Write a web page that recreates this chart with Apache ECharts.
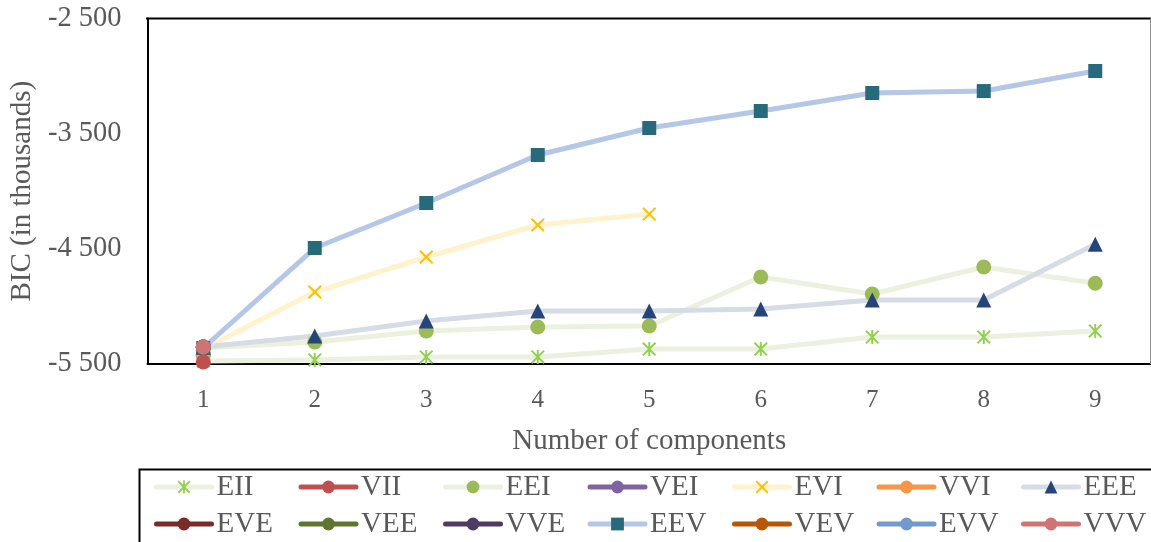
<!DOCTYPE html>
<html>
<head>
<meta charset="utf-8">
<script src="https://cdn.jsdelivr.net/npm/echarts@6/dist/echarts.min.js"></script>
<style>
html,body{margin:0;padding:0;background:#fff;}
#chart{width:1151px;height:542px;}
</style>
</head>
<body>
<div id="chart"></div>
<script>
// ---- data ----
const categories = ['1','2','3','4','5','6','7','8','9'];
const yTicks = [-5500, -4500, -3500, -2500];
const seriesNames = ['EII','VII','EEI','VEI','EVI','VVI','EEE','EVE','VEE','VVE','EEV','VEV','EVV','VVV'];
const EII = [-5474, -5465, -5439, -5439, -5370, -5370, -5266, -5266, -5213];
const VII = [-5483];
const EEI = [-5361, -5309, -5213, -5179, -5170, -4745, -4892, -4658, -4799];
const VEI = [-5420];
const EVI = [-5370, -4875, -4571, -4293, -4198];
const VVI = [-5420];
const EEE = [-5352, -5257, -5127, -5040, -5040, -5022, -4944, -4944, -4460];
const EVE = [-5352];
const VEE = [-5352];
const VVE = [-5352];
const EEV = [-5361, -4493, -4102, -3685, -3451, -3303, -3147, -3130, -2956];
const VEV = [-5352];
const EVV = [-5352];
const VVV = [-5352];
const seriesData = {EII, VII, EEI, VEI, EVI, VVI, EEE, EVE, VEE, VVE, EEV, VEV, EVV, VVV};

// ---- styles ----
const ASTERISK = 'path://M0,10L10,0L100,90L90,100ZM90,0L100,10L10,100L0,90ZM43,0L57,0L57,100L43,100Z';
const XMARK = 'path://M0,10L10,0L100,90L90,100ZM90,0L100,10L10,100L0,90Z';
const styles = {
  EII: {line:'#EBF1DE', mark:'#92D050', symbol:ASTERISK, size:14},
  VII: {line:'#C0504D', mark:'#C0504D', symbol:'circle', size:15, z:3},
  EEI: {line:'#EBF1DE', mark:'#9BBB59', symbol:'circle', size:15},
  VEI: {line:'#8064A2', mark:'#8064A2', symbol:'circle', size:15},
  EVI: {line:'#FFF2CC', mark:'#FFC000', symbol:XMARK, size:14},
  VVI: {line:'#F79646', mark:'#F79646', symbol:'circle', size:15},
  EEE: {line:'#D6DCE5', mark:'#264478', symbol:'triangle', size:15},
  EVE: {line:'#772C2A', mark:'#772C2A', symbol:'circle', size:15},
  VEE: {line:'#5F7530', mark:'#5F7530', symbol:'circle', size:15},
  VVE: {line:'#4D3B62', mark:'#4D3B62', symbol:'circle', size:15},
  EEV: {line:'#B4C7E7', mark:'#276A7C', symbol:'rect', size:14},
  VEV: {line:'#B65708', mark:'#B65708', symbol:'circle', size:15},
  EVV: {line:'#729ACA', mark:'#729ACA', symbol:'circle', size:15},
  VVV: {line:'#CF7472', mark:'#CF7472', symbol:'circle', size:15}
};

const FONT = '"Liberation Serif", "Times New Roman", serif';
const TXT = '#595959';

function fmt(v){
  const s = Math.abs(v).toString().replace(/\B(?=(\d{3})+(?!\d))/g, ' ');
  return (v < 0 ? '-' : '') + s;
}

const series = seriesNames.map(n => {
  const st = styles[n];
  return {
    name: n,
    type: 'line',
    data: seriesData[n],
    symbol: st.symbol,
    symbolSize: st.size,
    showSymbol: true,
    showAllSymbol: true,
    z: st.z || 2,
    lineStyle: {color: st.line, width: 5, cap: 'round', join: 'round'},
    itemStyle: {color: st.mark, borderWidth: 0},
    emphasis: {disabled: true},
    animation: false
  };
});

const legends = seriesNames.map((n, i) => ({
  data: [n],
  left: 154 + (i % 7) * 144.5,
  top: i < 7 ? 472 : 509,
  padding: 0,
  itemWidth: 55,
  itemHeight: 16,
  itemGap: 0,
  selectedMode: false,
  lineStyle: {width: 5, cap: 'round'},
  textStyle: {fontFamily: FONT, fontSize: 29, color: TXT, lineHeight: 30}
}));

const chart = echarts.init(document.getElementById('chart'), null, {renderer: 'canvas'});
chart.setOption({
  backgroundColor: '#fff',
  animation: false,
  grid: {left: 147, right: 0, top: 18.5, bottom: 178, show: false, containLabel: false},
  legend: legends,
  xAxis: {
    type: 'category',
    data: categories,
    boundaryGap: true,
    name: 'Number of components',
    nameLocation: 'middle',
    nameGap: 63,
    nameTextStyle: {fontFamily: FONT, fontSize: 29, color: TXT},
    axisLine: {show: true, lineStyle: {color: '#000', width: 2}},
    axisTick: {show: false},
    axisLabel: {fontFamily: FONT, fontSize: 25, color: TXT, margin: 24},
    splitLine: {show: false}
  },
  yAxis: {
    type: 'value',
    min: yTicks[0],
    max: yTicks[yTicks.length - 1],
    interval: yTicks[1] - yTicks[0],
    name: 'BIC (in thousands)',
    nameLocation: 'middle',
    nameRotate: 90,
    nameGap: 104,
    nameTextStyle: {fontFamily: FONT, fontSize: 29, color: TXT},
    axisLine: {show: true, lineStyle: {color: '#000', width: 2}},
    axisTick: {show: false},
    axisLabel: {fontFamily: FONT, fontSize: 28.5, color: TXT, margin: 26, formatter: fmt},
    splitLine: {show: false}
  },
  graphic: [
    {type: 'line', shape: {x1: 146, y1: 18.5, x2: 1151, y2: 18.5}, style: {stroke: '#000', lineWidth: 2}, z: 10},
    {type: 'line', shape: {x1: 1150.5, y1: 18.5, x2: 1150.5, y2: 364}, style: {stroke: '#8c8c8c', lineWidth: 1}, z: 10},
    {type: 'rect', shape: {x: 139.5, y: 469.5, width: 1030, height: 120}, style: {fill: 'none', stroke: '#000', lineWidth: 2}, z: 10}
  ],
  series: series
});
</script>
</body>
</html>
